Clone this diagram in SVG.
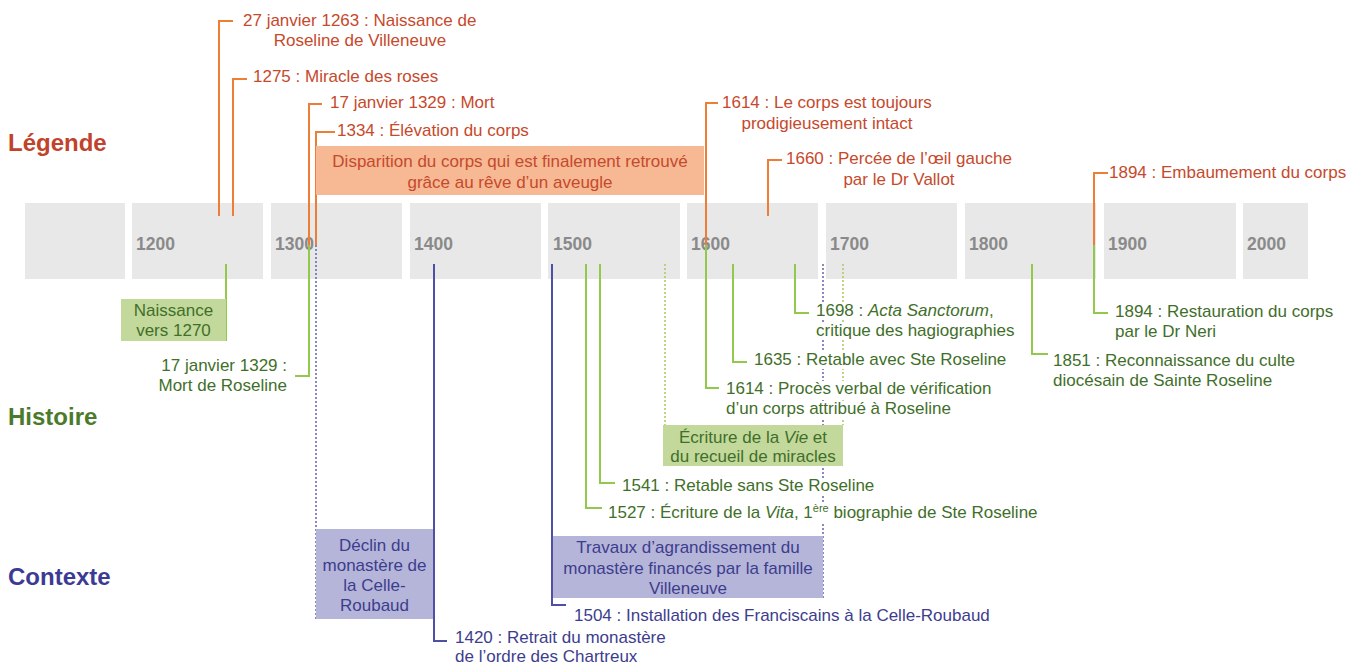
<svg xmlns="http://www.w3.org/2000/svg" width="1360" height="664" viewBox="0 0 1360 664">
<style>
text{font-family:"Liberation Sans",Arial,sans-serif;font-size:17px}
.tl{fill:#e8e8e8}
.yr{font-weight:bold;fill:#8a8a8a;font-size:17.5px}
.hd{font-weight:bold;font-size:24px}
.o{fill:#c6492c}
.g{fill:#3f6f2a}
.n{fill:#3d3d8e}
.m{text-anchor:middle}
.e{text-anchor:end}
.bg{fill:#ffffff}
.lo,.lg,.ln,.dn,.dg{fill:none;stroke-width:2}
.lo{stroke:#ee7d35}
.lg{stroke:#92c84b}
.ln{stroke:#4f4fa6}
.dn{stroke:#6464ad;stroke-width:1.5;stroke-dasharray:2 2}
.dg{stroke:#a6c95c;stroke-width:1.5;stroke-dasharray:2 2}
.bo{fill:#f6b994}
.bgr{fill:#c3d99b}
.bn{fill:#b5b5d9}
</style>
<rect width="1360" height="664" fill="#ffffff"/>
<g id="labels">
<text class="hd" x="8" y="151" fill="#c0432b">Légende</text>
<text class="hd" x="8" y="425" fill="#4b7a2b">Histoire</text>
<text class="hd" x="8" y="585" fill="#3b3b96">Contexte</text>
</g>
<g id="timeline">
<rect class="tl" x="25" y="203" width="100" height="76"/>
<rect class="tl" x="132" y="203" width="131" height="76"/>
<rect class="tl" x="271" y="203" width="131" height="76"/>
<rect class="tl" x="410" y="203" width="131" height="76"/>
<rect class="tl" x="548" y="203" width="132" height="76"/>
<rect class="tl" x="687" y="203" width="131" height="76"/>
<rect class="tl" x="826" y="203" width="131" height="76"/>
<rect class="tl" x="965" y="203" width="131" height="76"/>
<rect class="tl" x="1104" y="203" width="132" height="76"/>
<rect class="tl" x="1243" y="203" width="65" height="76"/>
<text class="yr" x="136" y="250">1200</text>
<text class="yr" x="275" y="250">1300</text>
<text class="yr" x="414" y="250">1400</text>
<text class="yr" x="553" y="250">1500</text>
<text class="yr" x="691" y="250">1600</text>
<text class="yr" x="830" y="250">1700</text>
<text class="yr" x="969" y="250">1800</text>
<text class="yr" x="1108" y="250">1900</text>
<text class="yr" x="1247" y="250">2000</text>
</g>
<g id="connectors">
<path class="lo" d="M233,21H219V216"/>
<path class="lo" d="M247,79H233V216"/>
<path class="lo" d="M322,104H309V245"/>
<path class="lo" d="M335,132H316V245"/>
<path class="lo" d="M718,103H706V245"/>
<path class="lo" d="M782,160H768V216"/>
<path class="lo" d="M1108,173H1094V245"/>
<path class="lg" d="M226,264V341"/>
<path class="lg" d="M295,376H309V245"/>
<path class="lg" d="M586,264V508H602"/>
<path class="lg" d="M600,264V483H615"/>
<path class="lg" d="M706,245V388H719"/>
<path class="lg" d="M733,264V362H747"/>
<path class="lg" d="M795,264V313H809"/>
<path class="lg" d="M1032,264V354H1048"/>
<path class="lg" d="M1094,245V313H1108"/>
<path class="ln" d="M434,264V641H447"/>
<path class="ln" d="M552,264V605H566"/>
<path class="dg" d="M665,264V425"/>
<path class="dg" d="M843,264V425"/>
<path class="dn" d="M316,245V619"/>
<path class="dn" d="M823,264V598"/>
</g>
<g id="n1263"><text class="o" x="243" y="26">27 janvier 1263 : Naissance de</text><text class="o m" x="360" y="46">Roseline de Villeneuve</text></g>
<g id="n1275"><text class="o" x="253" y="82">1275 : Miracle des roses</text></g>
<g id="n1329o"><text class="o" x="330" y="108">17 janvier 1329 : Mort</text></g>
<g id="n1334"><text class="o" x="337" y="136">1334 : Élévation du corps</text></g>
<g id="disparition"><rect class="bo" x="316" y="146" width="388" height="49"/><text class="o m" x="510" y="167">Disparition du corps qui est finalement retrouvé</text><text class="o m" x="510" y="188">grâce au rêve d’un aveugle</text></g>
<g id="n1614o"><text class="o" x="722" y="108">1614 : Le corps est toujours</text><text class="o m" x="827" y="129">prodigieusement intact</text></g>
<g id="n1660"><text class="o" x="786" y="164">1660 : Percée de l’œil gauche</text><text class="o m" x="899" y="185">par le Dr Vallot</text></g>
<g id="n1894o"><text class="o" x="1109" y="178">1894 : Embaumement du corps</text></g>
<g id="n1270"><rect class="bgr" x="121" y="299" width="105" height="42"/><text class="g m" x="173.5" y="316">Naissance</text><text class="g m" x="173.5" y="336">vers 1270</text></g>
<g id="n1329g"><text class="g e" x="287" y="371">17 janvier 1329 :</text><text class="g e" x="287" y="391">Mort de Roseline</text></g>
<g id="n1698"><rect class="bg" x="814" y="303" width="190" height="17"/><rect class="bg" x="814" y="323" width="212" height="17"/><text class="g" x="816" y="316">1698 : <tspan font-style="italic">Acta Sanctorum</tspan>,</text><text class="g" x="816" y="336">critique des hagiographies</text></g>
<g id="n1635"><rect class="bg" x="752" y="352" width="258" height="17"/><text class="g" x="754" y="365">1635 : Retable avec Ste Roseline</text></g>
<g id="n1614g"><rect class="bg" x="724" y="381" width="270" height="17"/><rect class="bg" x="724" y="401" width="235" height="17"/><text class="g" x="726" y="394">1614 : Procès verbal de vérification</text><text class="g" x="726" y="414">d’un corps attribué à Roseline</text></g>
<g id="n1851"><text class="g" x="1053" y="366">1851 : Reconnaissance du culte</text><text class="g" x="1053" y="386">diocésain de Sainte Roseline</text></g>
<g id="n1894g"><text class="g" x="1115" y="317">1894 : Restauration du corps</text><text class="g" x="1115" y="337">par le Dr Neri</text></g>
<g id="ecriture"><rect class="bgr" x="663" y="425" width="180" height="41"/><text class="g m" x="753" y="443">Écriture de la <tspan font-style="italic">Vie</tspan> et</text><text class="g m" x="753" y="462">du recueil de miracles</text></g>
<g id="n1541"><rect class="bg" x="620" y="478" width="258" height="17"/><text class="g" x="622" y="491">1541 : Retable sans Ste Roseline</text></g>
<g id="n1527"><rect class="bg" x="606" y="504" width="440" height="18"/><text class="g" x="608" y="518">1527 : Écriture de la <tspan font-style="italic">Vita</tspan>, 1<tspan baseline-shift="super" font-size="11">ère</tspan> biographie de Ste Roseline</text></g>
<g id="declin"><rect class="bn" x="316" y="529" width="117" height="90"/><text class="n m" x="374.5" y="551">Déclin du</text><text class="n m" x="374.5" y="571">monastère de</text><text class="n m" x="374.5" y="591">la Celle-</text><text class="n m" x="374.5" y="611">Roubaud</text></g>
<g id="n1420"><text class="n" x="455" y="643">1420 : Retrait du monastère</text><text class="n" x="455" y="662">de l’ordre des Chartreux</text></g>
<g id="travaux"><rect class="bn" x="553" y="536" width="270" height="62"/><text class="n m" x="688" y="553">Travaux d’agrandissement du</text><text class="n m" x="688" y="574">monastère financés par la famille</text><text class="n m" x="688" y="594">Villeneuve</text></g>
<g id="n1504"><text class="n" x="574" y="621">1504 : Installation des Franciscains à la Celle-Roubaud</text></g>
</svg>
